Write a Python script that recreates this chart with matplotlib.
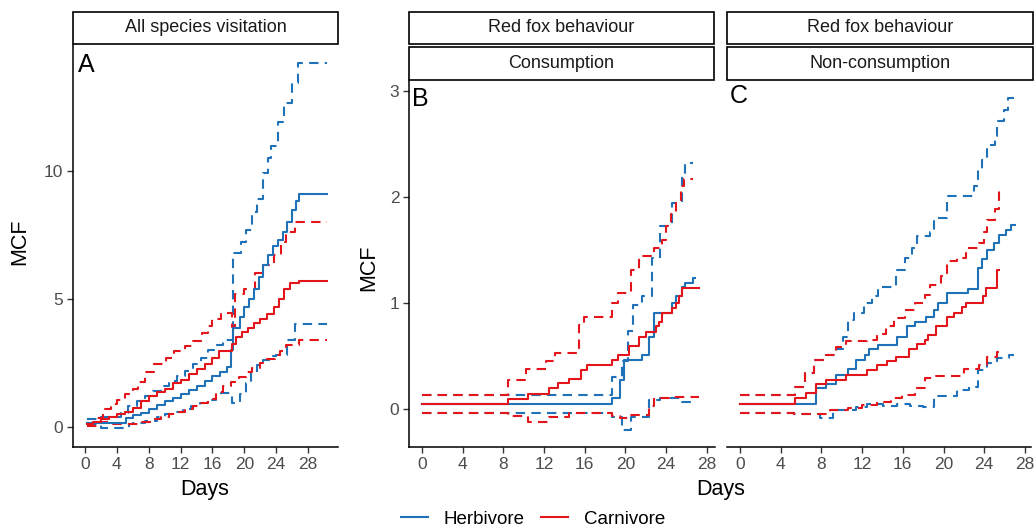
import matplotlib
matplotlib.use("Agg")
import matplotlib.pyplot as plt
from matplotlib.patches import Rectangle
from matplotlib.lines import Line2D

plt.rcParams['font.family'] = ['Liberation Sans', 'DejaVu Sans']

BLUE = '#1F72B8'
RED = '#E4141B'

# ---- panel A: all species visitation (step curves: start day of each step, value) ----
a_herb_x = [0.3, 5.2, 6.0, 7.0, 8.0, 9.0, 10.0, 11.0, 12.0, 13.0, 14.0, 15.0, 16.0, 17.0, 17.8, 18.3,
            18.6, 19.4, 20.0, 20.6, 21.2, 21.8, 22.4, 23.0, 23.6, 24.2, 24.8, 25.4, 26.0, 26.5, 26.9, 30.4]
a_herb_y = [0.17, 0.35, 0.45, 0.55, 0.7, 0.85, 1.0, 1.15, 1.3, 1.45, 1.6, 1.8, 2.0, 2.15, 2.35, 3.0,
            3.85, 4.3, 4.7, 5.0, 5.4, 5.85, 6.3, 6.7, 7.05, 7.3, 7.6, 8.0, 8.45, 8.8, 9.09, 9.09]
a_herb_hi_x = [0.3, 2.0, 4.5, 5.4, 6.5, 7.5, 8.5, 9.5, 10.5, 11.5, 12.5, 13.5, 14.5, 15.5, 16.5, 17.3,
               18.6, 19.6, 20.2, 21.0, 21.6, 22.4, 23.0, 23.4, 24.2, 25.0, 26.0, 26.7, 30.4]
a_herb_hi_y = [0.3, 0.4, 0.55, 0.8, 1.0, 1.2, 1.4, 1.6, 1.8, 2.0, 2.2, 2.45, 2.7, 3.0, 3.2, 3.4,
               6.8, 7.2, 7.7, 8.4, 8.9, 9.9, 10.5, 10.95, 11.9, 12.65, 13.4, 14.18, 14.18]
a_herb_lo_x = [0.3, 2.0, 5.5, 6.0, 7.5, 9.0, 10.0, 11.2, 12.3, 13.3, 14.4, 15.4, 16.5, 17.1, 18.5,
               19.5, 20.2, 20.8, 21.6, 22.4, 23.3, 24.0, 25.3, 26.4, 30.4]
a_herb_lo_y = [0.1, -0.03, 0.1, 0.17, 0.25, 0.4, 0.5, 0.6, 0.7, 0.8, 0.95, 1.05, 1.2, 1.32, 0.93,
               1.3, 1.7, 2.1, 2.4, 2.6, 2.75, 2.8, 3.4, 4.0, 4.0]
a_carn_x = [0.2, 1.0, 2.0, 3.0, 4.0, 5.0, 6.0, 7.0, 8.0, 9.0, 10.0, 11.0, 12.0, 13.0, 14.0, 15.0,
            16.0, 16.8, 18.4, 19.0, 19.7, 20.4, 21.2, 22.0, 22.8, 23.7, 24.4, 25.0, 25.7, 26.9, 30.4]
a_carn_y = [0.1, 0.2, 0.3, 0.4, 0.5, 0.6, 0.75, 1.0, 1.2, 1.35, 1.5, 1.7, 1.85, 2.05, 2.25, 2.45,
            2.7, 2.95, 3.25, 3.5, 3.7, 3.87, 4.05, 4.2, 4.4, 4.7, 5.0, 5.4, 5.6, 5.7, 5.7]
a_carn_hi_x = [0.2, 1.3, 2.3, 3.3, 4.0, 5.0, 6.0, 6.7, 7.5, 8.7, 10.2, 11.2, 12.5, 13.5, 14.7, 15.5,
               16.0, 17.1, 18.4, 18.8, 20.0, 21.3, 22.4, 23.7, 24.6, 25.2, 26.3, 30.4]
a_carn_hi_y = [0.15, 0.35, 0.7, 0.9, 1.05, 1.3, 1.5, 1.75, 2.15, 2.45, 2.7, 2.95, 3.15, 3.35, 3.65, 3.95,
               4.2, 4.45, 3.9, 5.2, 5.4, 6.0, 6.3, 6.7, 7.2, 7.6, 8.0, 8.0]
a_carn_lo_x = [0.2, 1.5, 3.5, 5.5, 7.0, 8.5, 9.5, 10.5, 11.5, 12.5, 13.5, 14.5, 15.5, 16.5, 17.3,
               18.3, 19.3, 20.2, 21.0, 22.0, 22.8, 23.8, 24.5, 25.2, 26.9, 30.4]
a_carn_lo_y = [0.05, 0.2, 0.12, 0.1, 0.2, 0.3, 0.4, 0.5, 0.6, 0.7, 0.8, 0.95, 1.1, 1.35, 1.6,
               1.75, 1.96, 2.15, 2.3, 2.5, 2.65, 2.8, 2.95, 3.2, 3.4, 3.4]

# ---- panel B: red fox consumption ----
b_herb_x = [0, 18.7, 19.5, 19.85, 21.6, 22.3, 22.8, 24.6, 25.0, 25.6, 25.9, 26.6, 26.8]
b_herb_y = [0.044, 0.10, 0.27, 0.46, 0.51, 0.68, 0.90, 1.0, 1.06, 1.15, 1.19, 1.23, 1.23]
b_herb_hi_x = [0, 18.7, 19.7, 20.2, 20.7, 21.6, 22.6, 23.4, 24.6, 25.6, 25.9, 26.6]
b_herb_hi_y = [0.13, 0.30, 0.45, 0.73, 0.98, 1.06, 1.42, 1.72, 1.94, 2.2, 2.32, 2.32]
b_herb_lo_x = [0, 18.7, 19.7, 20.5, 22.3, 23.4, 25.6, 26.6]
b_herb_lo_y = [-0.04, -0.08, -0.2, -0.08, 0.08, 0.1, 0.06, 0.06]
b_carn_x = [0, 8.5, 10.4, 12.5, 13.4, 14.4, 15.6, 16.2, 18.7, 19.3, 20.3, 21.3, 22.0, 23.0, 23.3,
            23.6, 24.6, 25.0, 25.3, 25.6, 27.2]
b_carn_y = [0.044, 0.094, 0.14, 0.195, 0.24, 0.28, 0.37, 0.415, 0.46, 0.51, 0.59, 0.68, 0.72, 0.78, 0.82,
            0.9, 0.95, 1.0, 1.06, 1.14, 1.14]
b_carn_hi_x = [0, 8.5, 10.2, 12.2, 13.1, 15.4, 15.9, 18.7, 19.3, 20.5, 21.3, 22.8, 23.6, 24.0, 24.5,
               25.0, 25.5, 25.8, 26.6]
b_carn_hi_y = [0.13, 0.27, 0.38, 0.45, 0.525, 0.79, 0.87, 1.0, 1.09, 1.31, 1.44, 1.52, 1.59, 1.72, 1.84,
               1.94, 2.1, 2.17, 2.17]
b_carn_lo_x = [0, 8.5, 10.4, 12.5, 14.4, 18.7, 19.5, 20.3, 22.3, 22.8, 24.3, 27.2]
b_carn_lo_y = [-0.04, -0.07, -0.12, -0.08, -0.04, -0.07, -0.09, -0.06, 0.03, 0.1, 0.11, 0.11]

# ---- panel C: red fox non-consumption ----
c_herb_x = [0, 7.5, 8.45, 9.4, 10.6, 11.4, 12.3, 12.7, 13.6, 15.4, 16.4, 17.2, 18.3, 19.1, 19.5,
            20.3, 22.4, 23.4, 23.8, 24.3, 25.0, 25.5, 26.1, 26.6, 27.0]
c_herb_y = [0.047, 0.2, 0.235, 0.32, 0.38, 0.46, 0.51, 0.56, 0.6, 0.68, 0.78, 0.82, 0.87, 0.93, 1.0,
            1.09, 1.13, 1.33, 1.41, 1.5, 1.56, 1.64, 1.69, 1.73, 1.73]
c_herb_hi_x = [0, 5.4, 6.35, 7.3, 8.45, 9.4, 10.1, 10.6, 11.2, 12.2, 13.0, 13.6, 15.3, 16.2, 16.9,
               17.4, 18.7, 19.1, 20.3, 23.0, 23.4, 23.8, 24.3, 25.1, 25.3, 25.9, 26.3, 26.9]
c_herb_hi_y = [0.13, 0.21, 0.34, 0.46, 0.51, 0.56, 0.68, 0.84, 0.90, 1.0, 1.06, 1.15, 1.31, 1.42, 1.52,
               1.63, 1.67, 1.80, 2.01, 2.1, 2.25, 2.35, 2.49, 2.57, 2.71, 2.82, 2.93, 2.93]
c_herb_lo_x = [0, 5.3, 7.9, 9.1, 11.4, 12.5, 14.1, 15.4, 16.7, 18.0, 19.1, 21.3, 22.5, 23.4, 24.3,
               25.3, 26.4, 26.9]
c_herb_lo_y = [-0.04, -0.05, -0.09, -0.01, 0.02, 0.05, 0.03, 0.05, 0.03, 0.02, 0.12, 0.18, 0.21, 0.37, 0.43,
               0.48, 0.51, 0.51]
c_carn_x = [0, 5.4, 6.5, 7.5, 8.45, 10.4, 12.5, 13.5, 14.4, 15.3, 16.6, 17.4, 18.2, 18.5, 19.3,
            20.3, 21.0, 21.8, 22.2, 23.9, 24.2, 25.3, 25.45]
c_carn_y = [0.047, 0.10, 0.15, 0.23, 0.27, 0.32, 0.37, 0.41, 0.45, 0.49, 0.56, 0.61, 0.65, 0.70, 0.78,
            0.865, 0.9, 0.96, 1.0, 1.06, 1.14, 1.31, 1.31]
c_carn_hi_x = [0, 5.4, 6.35, 7.3, 8.45, 9.4, 10.4, 12.5, 13.5, 14.3, 15.1, 16.2, 17.2, 18.2, 18.7,
               19.8, 20.3, 21.3, 22.2, 23.5, 24.0, 24.3, 25.1, 25.5, 25.6]
c_carn_hi_y = [0.13, 0.21, 0.34, 0.46, 0.51, 0.58, 0.635, 0.65, 0.71, 0.78, 0.86, 0.93, 1.0, 1.075, 1.17,
               1.25, 1.39, 1.42, 1.52, 1.56, 1.67, 1.78, 1.88, 2.09, 2.09]
c_carn_lo_x = [0, 5.3, 8.8, 10.6, 12.0, 13.5, 14.8, 15.9, 17.2, 18.2, 19.3, 22.0, 23.5, 24.3, 25.3, 25.5]
c_carn_lo_y = [-0.04, -0.05, -0.01, 0.005, 0.04, 0.06, 0.10, 0.13, 0.195, 0.29, 0.31, 0.38, 0.415, 0.49,
               0.54, 0.54]

xticks = [0, 4, 8, 12, 16, 20, 24, 28]

W, H = 1035, 530
fig = plt.figure(figsize=(W / 100, H / 100), dpi=100)


def px_axes(x0, x1, y0, y1):
    return fig.add_axes([x0 / W, 1 - y1 / H, (x1 - x0) / W, (y1 - y0) / H])


def strip(x0, x1, y0, y1, text):
    fig.add_artist(Rectangle((x0 / W, 1 - y1 / H), (x1 - x0) / W, (y1 - y0) / H,
                             transform=fig.transFigure, facecolor='white',
                             edgecolor='black', lw=1.2))
    fig.text((x0 + x1) / 2 / W, 1 - (y0 + y1) / 2 / H, text, ha='center', va='center',
             fontsize=13, color='#1A1A1A')


def style(ax, left=True):
    for s in ['top', 'right']:
        ax.spines[s].set_visible(False)
    ax.spines['bottom'].set_linewidth(1.1)
    ax.spines['left'].set_linewidth(1.1)
    ax.tick_params(colors='#333333', labelcolor='#4D4D4D', labelsize=12.5,
                   length=4, width=1, pad=3)
    if not left:
        ax.spines['left'].set_visible(False)
        ax.tick_params(axis='y', left=False, labelleft=False)
    ax.set_xticks(xticks)


def curves(ax, sets):
    for x, y, c, ls in sets:
        if ls == '-':
            ax.step(x, y, where='post', color=c, lw=1.5)
        else:
            ax.step(x, y, where='post', color=c, lw=1.5, linestyle=(0, (4.5, 3)))


# panel A
axA = px_axes(73, 338, 45, 447)
curves(axA, [(a_herb_hi_x, a_herb_hi_y, BLUE, '--'), (a_herb_lo_x, a_herb_lo_y, BLUE, '--'),
             (a_carn_hi_x, a_carn_hi_y, RED, '--'), (a_carn_lo_x, a_carn_lo_y, RED, '--'),
             (a_herb_x, a_herb_y, BLUE, '-'), (a_carn_x, a_carn_y, RED, '-')])
axA.set_xlim(-1.5, 31.75)
axA.set_ylim(-0.78, 14.9)
axA.set_yticks([0, 5, 10])
style(axA)
axA.text(0.018, 0.98, 'A', transform=axA.transAxes, ha='left', va='top', fontsize=18)
strip(73, 338, 12, 44, 'All species visitation')

# panel B
axB = px_axes(409, 715, 80, 447)
curves(axB, [(b_herb_hi_x, b_herb_hi_y, BLUE, '--'), (b_herb_lo_x, b_herb_lo_y, BLUE, '--'),
             (b_carn_hi_x, b_carn_hi_y, RED, '--'), (b_carn_lo_x, b_carn_lo_y, RED, '--'),
             (b_herb_x, b_herb_y, BLUE, '-'), (b_carn_x, b_carn_y, RED, '-')])
axB.set_xlim(-1.28, 28.8)
axB.set_ylim(-0.36, 3.10)
axB.set_yticks([0, 1, 2, 3])
style(axB)
axB.text(0.01, 0.98, 'B', transform=axB.transAxes, ha='left', va='top', fontsize=18)
strip(409, 714, 12, 44, 'Red fox behaviour')
strip(409, 714, 47, 80, 'Consumption')

# panel C
axC = px_axes(727, 1031, 80, 447)
curves(axC, [(c_herb_hi_x, c_herb_hi_y, BLUE, '--'), (c_herb_lo_x, c_herb_lo_y, BLUE, '--'),
             (c_carn_hi_x, c_carn_hi_y, RED, '--'), (c_carn_lo_x, c_carn_lo_y, RED, '--'),
             (c_herb_x, c_herb_y, BLUE, '-'), (c_carn_x, c_carn_y, RED, '-')])
axC.set_xlim(-1.28, 28.6)
axC.set_ylim(-0.36, 3.10)
style(axC, left=False)
axC.text(0.01, 0.99, 'C', transform=axC.transAxes, ha='left', va='top', fontsize=18)
strip(727, 1033, 12, 44, 'Red fox behaviour')
strip(727, 1033, 47, 80, 'Non-consumption')

# axis titles
fig.text(20 / W, 1 - 242 / H, 'MCF', rotation=90, ha='center', va='center', fontsize=15.5)
fig.text(369 / W, 1 - 268 / H, 'MCF', rotation=90, ha='center', va='center', fontsize=15.5)
fig.text(205 / W, 1 - 489 / H, 'Days', ha='center', va='center', fontsize=15.5)
fig.text(721 / W, 1 - 489 / H, 'Days', ha='center', va='center', fontsize=15.5)

handles = [Line2D([], [], color=BLUE, lw=1.5), Line2D([], [], color=RED, lw=1.5)]
fig.legend(handles, ['Herbivore', 'Carnivore'], loc='center', bbox_to_anchor=(533 / W, 1 - 519 / H),
           ncol=2, frameon=False, fontsize=13.5, handlelength=1.45, handletextpad=0.85,
           columnspacing=0.85, borderpad=0)

fig.savefig('out.png', dpi=100)
